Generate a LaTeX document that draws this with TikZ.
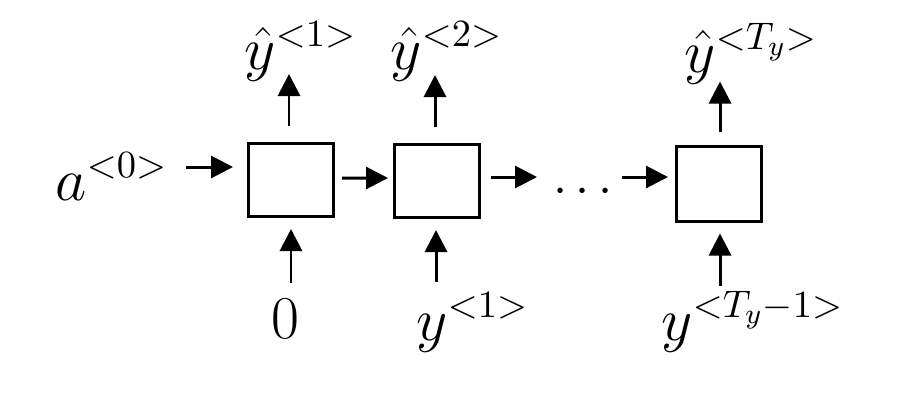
\documentclass[tikz,border=0pt]{standalone}
\usepackage{tikz}
\usetikzlibrary{arrows.meta,positioning,calc}
\tikzset{
  box/.style={draw=black,line width=0.85pt,minimum width=8.5mm,minimum height=7.3mm,inner sep=0pt},
  arr/.style={-{Triangle[length=2.2mm,width=2.2mm]},line width=0.85pt},
  lbl/.style={inner sep=0pt,font=\fontsize{16}{19}\selectfont}
}

\begin{document}
\begin{tikzpicture}
    \useasboundingbox (0,0) rectangle (9.04,-3.98);
    % cells
    \node[box] (b1) at (2.91,-1.80)  {};
    \node[box] (b2) at (4.37,-1.81)  {};
    \node[box,minimum height=7.5mm] (b3) at (7.19,-1.835) {};
    \node[lbl,font=\fontsize{14}{17}\selectfont,anchor=base] (dots) at (5.83,-2.03) {$\cdots$};
    % labels
    \node[lbl,anchor=base west] (a0)  at (0.55,-2.00) {$a^{<0>}$};
    \node[lbl,anchor=base west] (yh1) at (2.44,-0.69) {$\hat{y}^{<1>}$};
    \node[lbl,anchor=base west] (yh2) at (3.90,-0.69) {$\hat{y}^{<2>}$};
    \node[lbl,anchor=base west] (yhT) at (6.84,-0.72) {$\hat{y}^{<T_y>}$};
    \node[lbl,anchor=base]      (x1)  at (2.85,-3.38) {$0$};
    \node[lbl,anchor=base west] (x2)  at (4.16,-3.40) {$y^{<1>}$};
    \node[lbl,anchor=base west] (xT)  at (6.61,-3.40) {$y^{<T_y-1>}$};
    % horizontal flow
    \draw[arr] ([xshift=-6.1mm,yshift=1.3mm]b1.west) -- ([xshift=-1.4mm,yshift=1.3mm]b1.west);
    \draw[arr] ([xshift=0.7mm,yshift=0.2mm]b1.east) -- ([xshift=-0.5mm,yshift=0.3mm]b2.west);
    \draw[arr] ([xshift=1mm,yshift=0.4mm]b2.east) -- ++(0.46,0);
    \draw[arr] ([xshift=-5.3mm,yshift=0.65mm]b3.west) -- ([xshift=-0.7mm,yshift=0.65mm]b3.west);
    % outputs
    \draw[arr] ([xshift=-0.2mm,yshift=1.6mm]b1.north) -- ([xshift=-0.2mm,yshift=6.8mm]b1.north);
    \draw[arr] ([xshift=-0.2mm,yshift=1.6mm]b2.north) -- ([xshift=-0.2mm,yshift=6.8mm]b2.north);
    \draw[arr] ([xshift=0.1mm,yshift=1.3mm]b3.north) -- ([xshift=0.1mm,yshift=6.3mm]b3.north);
    % inputs
    \draw[arr] ([yshift=-6.5mm]b1.south) -- ([yshift=-1.1mm]b1.south);
    \draw[arr] ([xshift=-0.1mm,yshift=-6.3mm]b2.south) -- ([xshift=-0.1mm,yshift=-1.1mm]b2.south);
    \draw[arr] ([xshift=0.1mm,yshift=-6.3mm]b3.south) -- ([xshift=0.1mm,yshift=-1.1mm]b3.south);
\end{tikzpicture}
\end{document}
